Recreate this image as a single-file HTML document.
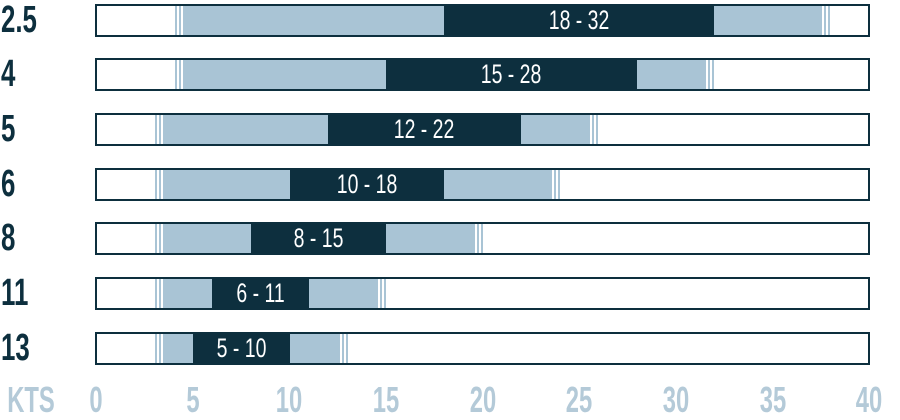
<!DOCTYPE html>
<html><head><style>
body{margin:0;width:900px;height:419px;background:#fff;position:relative;overflow:hidden;font-family:"Liberation Sans",sans-serif}
.lab{position:absolute;left:1px;font-weight:bold;color:#0d2f3e;font-size:38px;transform:scaleX(0.68);transform-origin:left center;line-height:40px}
.box{position:absolute;left:95px;width:771px;height:29px;border:2px solid #0d2f3e;background:#fff}
.l{position:absolute;top:0;height:29px;background:#a9c4d5}
.sl{position:absolute;top:0;height:29px;width:9px;background:linear-gradient(90deg,#a9c4d5 0 2px,#fff 2px 4px,#a9c4d5 4px 6px,#fff 6px 8px,#a9c4d5 8px)}
.sr{position:absolute;top:0;height:29px;width:9px;background:linear-gradient(270deg,#a9c4d5 0 2px,#fff 2px 4px,#a9c4d5 4px 6px,#fff 6px 8px,#a9c4d5 8px)}
.d{position:absolute;top:0;height:29px;background:#0d2f3e;color:#fff;font-size:27px;line-height:29px;text-align:center}
.d span{display:inline-block;transform:scaleX(0.72)}
.ax{position:absolute;top:380px;color:#b4cad8;font-weight:bold;font-size:36px;line-height:40px;transform:scaleX(0.66);width:60px;text-align:center}
</style></head><body>
<div class="lab" style="top:0px">2.5</div>
<div class="lab" style="top:54px">4</div>
<div class="lab" style="top:109px">5</div>
<div class="lab" style="top:164px">6</div>
<div class="lab" style="top:218px">8</div>
<div class="lab" style="top:273px">11</div>
<div class="lab" style="top:328px">13</div>

<div class="box" style="top:4px"><div class="l" style="left:78px;width:655px"></div><div class="sl" style="left:78px"></div><div class="sr" style="left:724px"></div><div class="d" style="left:347px;width:270px"><span>18 - 32</span></div></div>
<div class="box" style="top:58px"><div class="l" style="left:78px;width:539px"></div><div class="sl" style="left:78px"></div><div class="sr" style="left:608px"></div><div class="d" style="left:289px;width:251px"><span>15 - 28</span></div></div>
<div class="box" style="top:113px"><div class="l" style="left:58px;width:443px"></div><div class="sl" style="left:58px"></div><div class="sr" style="left:492px"></div><div class="d" style="left:231px;width:193px"><span>12 - 22</span></div></div>
<div class="box" style="top:168px"><div class="l" style="left:58px;width:405px"></div><div class="sl" style="left:58px"></div><div class="sr" style="left:454px"></div><div class="d" style="left:193px;width:154px"><span>10 - 18</span></div></div>
<div class="box" style="top:222px"><div class="l" style="left:58px;width:328px"></div><div class="sl" style="left:58px"></div><div class="sr" style="left:377px"></div><div class="d" style="left:154px;width:135px"><span>8 - 15</span></div></div>
<div class="box" style="top:277px"><div class="l" style="left:58px;width:231px"></div><div class="sl" style="left:58px"></div><div class="sr" style="left:280px"></div><div class="d" style="left:115px;width:97px"><span>6 - 11</span></div></div>
<div class="box" style="top:332px"><div class="l" style="left:58px;width:193px"></div><div class="sl" style="left:58px"></div><div class="sr" style="left:242px"></div><div class="d" style="left:96px;width:97px"><span>5 - 10</span></div></div>

<div class="ax" style="left:-3px">KTS</div>
<div class="ax" style="left:66px">0</div>
<div class="ax" style="left:163px">5</div>
<div class="ax" style="left:259px">10</div>
<div class="ax" style="left:356px">15</div>
<div class="ax" style="left:453px">20</div>
<div class="ax" style="left:549px">25</div>
<div class="ax" style="left:646px">30</div>
<div class="ax" style="left:743px">35</div>
<div class="ax" style="left:839px">40</div>
</body></html>
